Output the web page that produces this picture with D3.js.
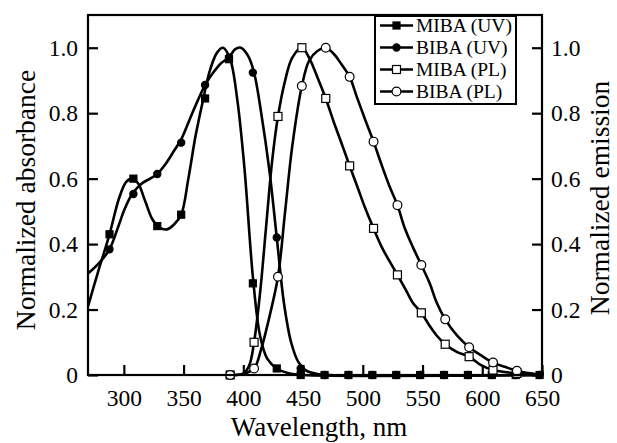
<!DOCTYPE html>
<html lang="en">
<head>
  <meta charset="UTF-8">
  <title>Absorbance and emission</title>
  <script src="https://d3js.org/d3.v7.min.js"></script>
  <style>
    body { margin: 0; background: #fff; }
    svg { display: block; font-family: "Liberation Serif", "Times New Roman", serif; }
  </style>
</head>
<body>
<div class="main"></div>
<script>

  // wavelengths where markers sit
  var uvWl = [288, 308, 328, 348, 368, 388, 408, 428, 448, 468, 488, 508, 528, 548, 568, 588, 608, 628, 648];
  var plWl = [389, 409, 429, 449, 469, 489, 509, 529, 549, 569, 589, 609, 629];

  // marker values
  var mibaUvMarks = [0.43, 0.60, 0.455, 0.49, 0.845, 0.965, 0.28, 0.02, 0, 0, 0, 0, 0, 0, 0, 0, 0, 0, 0];
  var bibaUvMarks = [0.384, 0.553, 0.614, 0.71, 0.886, 0.97, 0.924, 0.42, 0.02, 0, 0, 0, 0, 0, 0, 0, 0, 0, 0];
  var mibaPlMarks = [0, 0.1, 0.79, 1.0, 0.845, 0.639, 0.448, 0.306, 0.19, 0.094, 0.056, 0.015, 0.005];
  var bibaPlMarks = [0, 0.02, 0.3, 0.883, 1.0, 0.911, 0.713, 0.519, 0.336, 0.17, 0.085, 0.038, 0.013];

  // points
  var mibaUvLine = [[270,0.21],[278,0.31],[288,0.43],[296,0.54],[302,0.59],[307,0.60],[312,0.585],[318,0.53],[324,0.475],[330,0.45],[336,0.445],[342,0.46],[348,0.49],[354,0.6],[360,0.73],[366,0.835],[372,0.93],[378,0.985],[383,1.0],[389,0.965],[395,0.84],[401,0.63],[408,0.3],[414,0.12],[420,0.05],[428,0.02],[438,0.005],[450,0],[650,0]];
  var bibaUvLine = [[270,0.31],[280,0.345],[288,0.384],[295,0.45],[301,0.51],[307,0.553],[315,0.585],[322,0.6],[328,0.614],[335,0.645],[342,0.685],[348,0.72],[355,0.78],[362,0.84],[368,0.886],[375,0.925],[382,0.955],[388,0.97],[393,0.995],[398,1.0],[404,0.975],[409,0.924],[415,0.8],[422,0.62],[428,0.42],[434,0.22],[440,0.1],[446,0.04],[452,0.015],[462,0.003],[472,0],[650,0]];
  var mibaPlLine = [[388,0],[400,0.005],[405,0.03],[409,0.1],[414,0.25],[419,0.45],[424,0.65],[429,0.79],[435,0.9],[441,0.97],[449,1.0],[455,0.97],[462,0.91],[469,0.845],[476,0.77],[483,0.7],[489,0.639],[496,0.57],[502,0.51],[509,0.448],[516,0.39],[522,0.35],[529,0.306],[536,0.26],[542,0.22],[549,0.19],[556,0.15],[562,0.12],[569,0.094],[579,0.07],[589,0.056],[599,0.03],[609,0.015],[629,0.005],[650,0]];
  var bibaPlLine = [[388,0],[400,0.003],[409,0.02],[415,0.08],[422,0.18],[429,0.3],[435,0.5],[441,0.7],[449,0.883],[455,0.96],[462,0.99],[469,1.0],[476,0.98],[482,0.95],[489,0.911],[495,0.85],[502,0.78],[509,0.713],[515,0.65],[522,0.58],[529,0.519],[535,0.45],[542,0.39],[549,0.336],[556,0.28],[562,0.22],[569,0.17],[579,0.12],[589,0.085],[599,0.06],[609,0.038],[619,0.025],[629,0.013],[640,0.005],[650,0]];

  var xTicks = [300, 350, 400, 450, 500, 550, 600, 650];
  var yTicks = [0, 0.2, 0.4, 0.6, 0.8, 1.0];
  var yTickLabels = ["0", "0.2", "0.4", "0.6", "0.8", "1.0"];
  var legendNames = ["MIBA (UV)", "BIBA (UV)", "MIBA (PL)", "BIBA (PL)"];

  let width = 617, height = 443;
  let margin = {left: 88, right: 542, top: 15, bottom: 375};

  let xScale = d3.scaleLinear().domain([270, 650]).range([margin.left, margin.right]);
  let yScale = d3.scaleLinear().domain([0, 1.1]).range([margin.bottom, margin.top]);

  let svg = d3.select(".main").append("svg")
          .attr("width", width)
          .attr("height", height);

  let line = d3.line()
          .x(d => xScale(d[0]))
          .y(d => yScale(d[1]))
          .curve(d3.curveCatmullRom.alpha(0.5));

  let series = [
    {line: mibaUvLine, wl: uvWl, marks: mibaUvMarks, shape: "square", fill: "black"},
    {line: bibaUvLine, wl: uvWl, marks: bibaUvMarks, shape: "circle", fill: "black"},
    {line: mibaPlLine, wl: plWl, marks: mibaPlMarks, shape: "square", fill: "white"},
    {line: bibaPlLine, wl: plWl, marks: bibaPlMarks, shape: "circle", fill: "white"}
  ];

  function drawMarker(g, shape, fill, cx, cy) {
    if (shape == "square") {
      let s = fill == "black" ? 7 : 8;
      g.append("rect")
              .attr("x", cx - s / 2).attr("y", cy - s / 2)
              .attr("width", s).attr("height", s)
              .style("fill", fill).style("stroke", "black").style("stroke-width", 1.2);
    } else {
      g.append("circle")
              .attr("cx", cx).attr("cy", cy)
              .attr("r", fill == "black" ? 3.6 : 4.4)
              .style("fill", fill).style("stroke", "black").style("stroke-width", 1.2);
    }
  }

  let plotG = svg.append("g");
  series.forEach(function (s) {
    plotG.append("path")
            .datum(s.line)
            .attr("d", line)
            .style("fill", "none")
            .style("stroke", "black")
            .style("stroke-width", 2.6);
  });
  series.forEach(function (s) {
    for (let i = 0; i < s.wl.length; i++) {
      drawMarker(plotG, s.shape, s.fill, xScale(s.wl[i]), yScale(s.marks[i]));
    }
  });

  // frame
  svg.append("rect")
          .attr("x", margin.left).attr("y", margin.top)
          .attr("width", margin.right - margin.left).attr("height", margin.bottom - margin.top)
          .style("fill", "none").style("stroke", "black").style("stroke-width", 2.2);

  // axes with inward ticks
  let xAxis = d3.axisBottom(xScale).tickValues(xTicks).tickSize(-10).tickPadding(14).tickFormat(d3.format("d"));
  let yAxisL = d3.axisLeft(yScale).tickValues(yTicks).tickSize(-10).tickPadding(10).tickFormat((d, i) => yTickLabels[i]);
  let yAxisR = d3.axisRight(yScale).tickValues(yTicks).tickSize(-10).tickPadding(9).tickFormat((d, i) => yTickLabels[i]);

  function draw(axis, translate) {
    let g = svg.append("g").attr("transform", translate).call(axis);
    g.select(".domain").remove();
    g.selectAll(".tick line").style("stroke", "black").style("stroke-width", 2.2);
    g.selectAll(".tick text").style("font-size", "23.5px").style("font-family", "Liberation Serif").style("fill", "black");
    return g;
  }
  draw(xAxis, `translate(0, ${margin.bottom})`);
  draw(yAxisL, `translate(${margin.left}, 0)`);
  draw(yAxisR, `translate(${margin.right}, 0)`);

  svg.append("text")
          .attr("x", 319).attr("y", 436)
          .attr("text-anchor", "middle")
          .style("font-size", "27px")
          .text("Wavelength, nm");
  svg.append("text")
          .attr("transform", "translate(35, 200) rotate(-90)")
          .attr("text-anchor", "middle")
          .style("font-size", "27.5px")
          .text("Normalized absorbance");
  svg.append("text")
          .attr("transform", "translate(609, 198) rotate(-90)")
          .attr("text-anchor", "middle")
          .style("font-size", "27.5px")
          .text("Normalized emission");

  // legend
  let legG = svg.append("g");
  legG.append("rect")
          .attr("x", 375).attr("y", 16).attr("width", 141).attr("height", 88)
          .style("fill", "white").style("stroke", "black").style("stroke-width", 2);
  let rowY = [25.5, 47.5, 69.5, 91.5];
  series.forEach(function (s, i) {
    legG.append("line")
            .attr("x1", 380).attr("x2", 413)
            .attr("y1", rowY[i]).attr("y2", rowY[i])
            .style("stroke", "black").style("stroke-width", 2.6);
    drawMarker(legG, s.shape, s.fill, 396.5, rowY[i]);
    legG.append("text")
            .attr("x", 416).attr("y", rowY[i] + 6.5)
            .style("font-size", "19.5px")
            .text(legendNames[i]);
  });

</script>
</body>
</html>
